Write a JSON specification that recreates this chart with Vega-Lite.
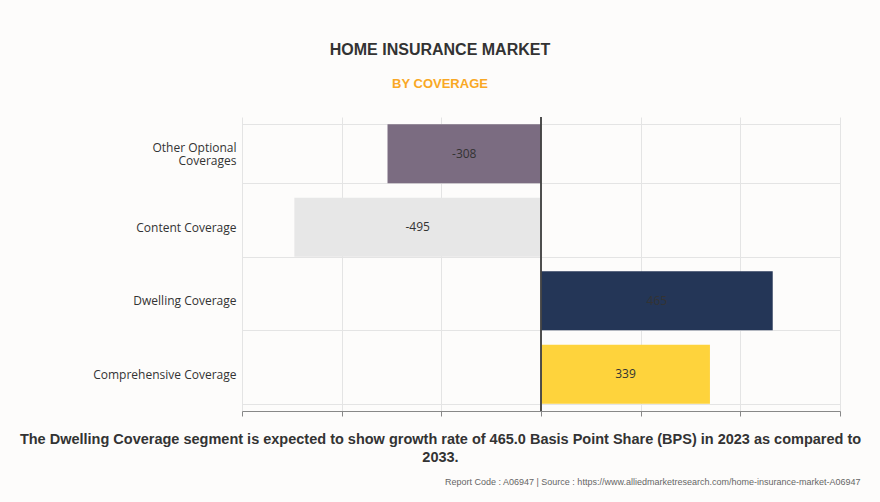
{
  "$schema": "https://vega.github.io/schema/vega-lite/v6.json",
  "width": 598,
  "height": 294,
  "autosize": {"type": "none"},
  "padding": {"left": 242, "top": 117, "right": 40, "bottom": 91},
  "background": "#fdfcfb",
  "title": {
    "text": "HOME INSURANCE MARKET",
    "subtitle": "BY COVERAGE",
    "anchor": "middle",
    "dx": -101,
    "offset": 20,
    "font": "Liberation Sans",
    "fontSize": 16,
    "fontWeight": "bold",
    "color": "#333333",
    "subtitleFont": "Liberation Sans",
    "subtitleFontSize": 13,
    "subtitleFontWeight": "bold",
    "subtitleColor": "#f9a825",
    "subtitlePadding": 20
  },
  "data": {
    "values": [
      {"segment": "Other Optional Coverages", "value": -308},
      {"segment": "Content Coverage", "value": -495},
      {"segment": "Dwelling Coverage", "value": 465},
      {"segment": "Comprehensive Coverage", "value": 339}
    ]
  },
  "config": {"view": {"stroke": null}},
  "layer": [
    {
      "mark": {"type": "bar"},
      "encoding": {
        "y": {
          "field": "segment",
          "type": "nominal",
          "sort": null,
          "scale": {"paddingInner": 0.2, "paddingOuter": 0.1},
          "axis": {
            "title": null,
            "domain": false,
            "ticks": false,
            "grid": true,
            "tickBand": "extent",
            "gridColor": "#e4e4e4",
            "labelFont": "Open Sans",
            "labelFontSize": 12,
            "labelColor": "#333333",
            "labelPadding": 6,
            "labelLimit": 240,
            "labelLineHeight": 13,
            "labelOffset": {"condition": {"test": "datum.value == 'Other Optional Coverages'", "value": -6}, "value": 0},
            "labelExpr": "datum.value == 'Other Optional Coverages' ? ['Other Optional', 'Coverages'] : datum.value"
          }
        },
        "x": {
          "field": "value",
          "type": "quantitative",
          "scale": {"domain": [-600, 600], "nice": false},
          "axis": {
            "orient": "bottom",
            "values": [-600, -400, -200, 0, 200, 400, 600],
            "labels": false,
            "grid": true,
            "gridColor": "#e4e4e4",
            "domainColor": "#888888",
            "tickColor": "#888888",
            "tickSize": 5,
            "title": ["The Dwelling Coverage segment is expected to show growth rate of 465.0 Basis Point Share (BPS) in 2023 as compared to", "2033."],
            "titleFont": "Liberation Sans",
            "titleFontSize": 14.5,
            "titleFontWeight": "bold",
            "titleColor": "#333333",
            "titleLineHeight": 18,
            "titleX": 198,
            "titleAlign": "center",
            "titlePadding": 16
          }
        },
        "color": {
          "field": "segment",
          "type": "nominal",
          "scale": {
            "domain": ["Other Optional Coverages", "Content Coverage", "Dwelling Coverage", "Comprehensive Coverage"],
            "range": ["#7b6c81", "#e7e7e7", "#243657", "#fed33c"]
          },
          "legend": null
        }
      }
    },
    {
      "transform": [{"calculate": "datum.value / 2", "as": "mid"}],
      "mark": {"type": "text", "font": "Open Sans", "fontSize": 12, "color": "#333333"},
      "encoding": {
        "y": {"field": "segment", "type": "nominal", "sort": null},
        "x": {
          "field": "mid",
          "type": "quantitative",
          "axis": {
            "orient": "bottom",
            "labels": false,
            "ticks": false,
            "domain": false,
            "grid": false,
            "title": "Report Code : A06947  |  Source : https://www.alliedmarketresearch.com/home-insurance-market-A06947",
            "titleFont": "Liberation Sans",
            "titleFontSize": 9,
            "titleFontWeight": "normal",
            "titleColor": "#666666",
            "titleX": 618,
            "titleY": 66,
            "titleAlign": "right"
          }
        },
        "text": {"field": "value", "type": "nominal"}
      }
    },
    {
      "mark": {"type": "rule", "color": "#444444", "strokeWidth": 1},
      "encoding": {"x": {"datum": 0, "axis": null}}
    }
  ],
  "resolve": {"axis": {"x": "independent"}}
}
